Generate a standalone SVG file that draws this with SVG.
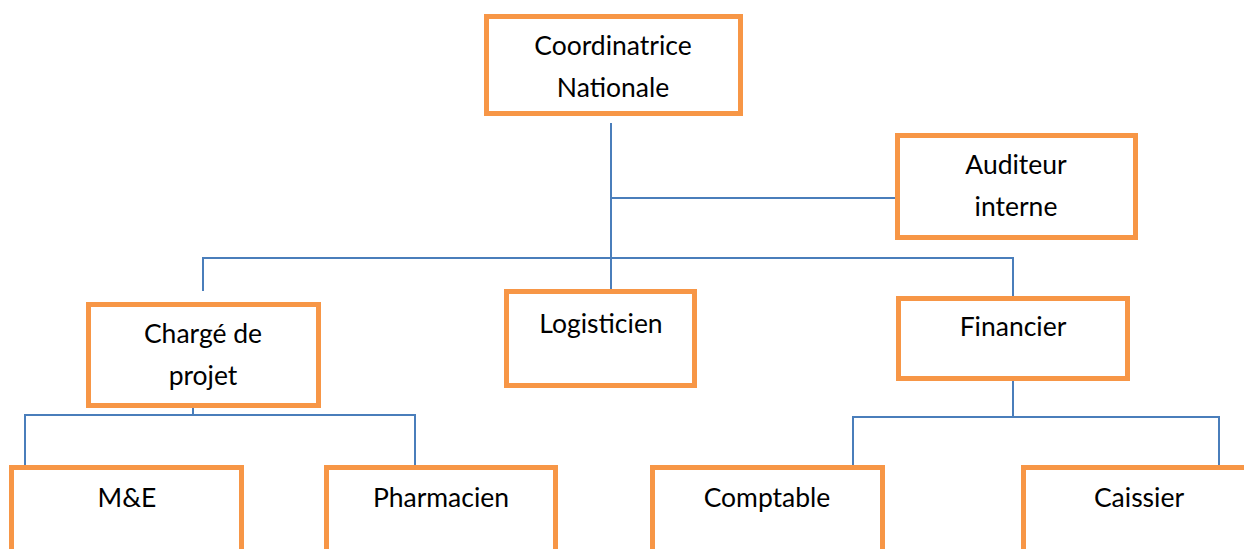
<svg xmlns="http://www.w3.org/2000/svg" width="1244" height="549" viewBox="0 0 1244 549">
<style>
.box{fill:#fff;stroke:#F79646;stroke-width:5}
.ln{fill:none;stroke:#4A7EBB;stroke-width:2}
text{font-family:Lato,"Open Sans",sans-serif;font-size:26.5px;fill:#000;text-anchor:middle}
</style>
<rect width="1244" height="549" fill="#fff"/>
<g id="connectors">
<path class="ln" d="M611 123 V290"/>
<path class="ln" d="M611 198 H895"/>
<path class="ln" d="M203 291 V258 H1013 V296"/>
<path class="ln" d="M193 408 V415 M25 465 V415 H415 V465"/>
<path class="ln" d="M1013 379 V417 M853 465 V417 H1219 V465"/>
</g>
<g id="coordinatrice"><rect class="box" x="486.5" y="16.5" width="254" height="97"/><text x="613" y="55">Coordinatrice</text><text x="613" y="97">Nationale</text></g>
<g id="auditeur"><rect class="box" x="897.5" y="135.5" width="238" height="102"/><text x="1016" y="174">Auditeur</text><text x="1016" y="216">interne</text></g>
<g id="charge"><rect class="box" x="88.5" y="304.5" width="230" height="101"/><text x="203" y="343">Chargé de</text><text x="203" y="385">projet</text></g>
<g id="logisticien"><rect class="box" x="506.5" y="291.5" width="188" height="94"/><text x="601" y="333">Logisticien</text></g>
<g id="financier"><rect class="box" x="898.5" y="298.5" width="229" height="80"/><text x="1013" y="336">Financier</text></g>
<g id="me"><rect class="box" x="11.5" y="467.5" width="230" height="100"/><text x="127" y="507">M&amp;E</text></g>
<g id="pharmacien"><rect class="box" x="326.5" y="467.5" width="229" height="100"/><text x="441" y="507">Pharmacien</text></g>
<g id="comptable"><rect class="box" x="652.5" y="467.5" width="230" height="100"/><text x="767" y="507">Comptable</text></g>
<g id="caissier"><rect class="box" x="1023.5" y="467.5" width="240" height="100"/><text x="1139" y="507">Caissier</text></g>
</svg>
